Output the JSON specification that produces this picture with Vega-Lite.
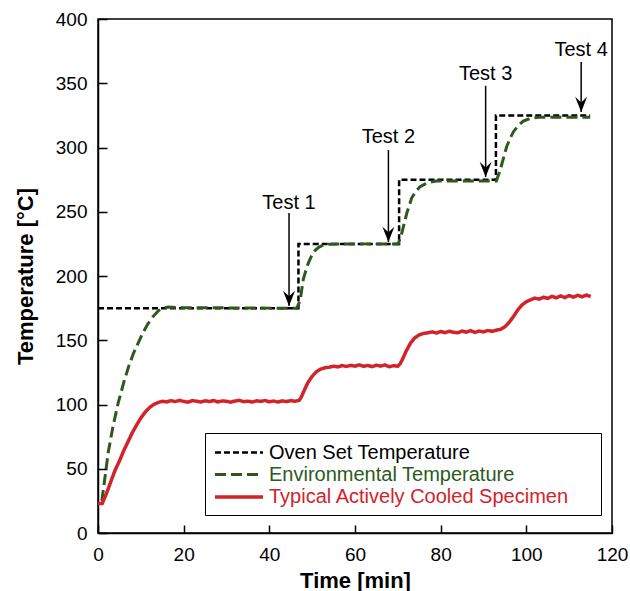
{
  "$schema": "https://vega.github.io/schema/vega-lite/v6.json",
  "width": 514,
  "height": 514,
  "autosize": {"type": "none"},
  "padding": {"left": 98, "top": 19, "right": 18, "bottom": 58},
  "config": {
    "font": "Liberation Sans",
    "view": {"stroke": "black", "strokeWidth": 1.5},
    "axis": {"grid": false, "domainColor": "black", "domainWidth": 1.5, "tickColor": "black", "tickWidth": 1.5, "labelColor": "black", "titleColor": "black", "labelFontSize": 19, "titleFontSize": 22, "titleFontWeight": "bold", "labelFont": "Liberation Sans", "titleFont": "Liberation Sans"}
  },
  "datasets": {
    "lines": [
      {"s": "Oven Set Temperature", "t": 0, "v": 175},
      {"s": "Oven Set Temperature", "t": 46.8, "v": 175},
      {"s": "Oven Set Temperature", "t": 46.8, "v": 225},
      {"s": "Oven Set Temperature", "t": 70.3, "v": 225},
      {"s": "Oven Set Temperature", "t": 70.3, "v": 275},
      {"s": "Oven Set Temperature", "t": 92.9, "v": 275},
      {"s": "Oven Set Temperature", "t": 92.9, "v": 325},
      {"s": "Oven Set Temperature", "t": 114.9, "v": 325},
      {"s": "Environmental Temperature", "t": 0.9, "v": 25},
      {"s": "Environmental Temperature", "t": 1.5, "v": 40},
      {"s": "Environmental Temperature", "t": 2.4, "v": 63},
      {"s": "Environmental Temperature", "t": 3.5, "v": 83},
      {"s": "Environmental Temperature", "t": 4.7, "v": 101},
      {"s": "Environmental Temperature", "t": 6, "v": 117},
      {"s": "Environmental Temperature", "t": 7.1, "v": 129},
      {"s": "Environmental Temperature", "t": 8.3, "v": 140},
      {"s": "Environmental Temperature", "t": 9.4, "v": 148},
      {"s": "Environmental Temperature", "t": 10.5, "v": 156},
      {"s": "Environmental Temperature", "t": 11.7, "v": 163},
      {"s": "Environmental Temperature", "t": 13, "v": 169},
      {"s": "Environmental Temperature", "t": 14.1, "v": 173},
      {"s": "Environmental Temperature", "t": 15.2, "v": 175},
      {"s": "Environmental Temperature", "t": 16.4, "v": 175.8},
      {"s": "Environmental Temperature", "t": 20, "v": 175.3},
      {"s": "Environmental Temperature", "t": 30, "v": 175.2},
      {"s": "Environmental Temperature", "t": 40, "v": 175},
      {"s": "Environmental Temperature", "t": 46.4, "v": 175},
      {"s": "Environmental Temperature", "t": 47.2, "v": 181},
      {"s": "Environmental Temperature", "t": 47.9, "v": 197},
      {"s": "Environmental Temperature", "t": 48.5, "v": 204},
      {"s": "Environmental Temperature", "t": 49.1, "v": 210},
      {"s": "Environmental Temperature", "t": 49.9, "v": 216},
      {"s": "Environmental Temperature", "t": 50.7, "v": 220},
      {"s": "Environmental Temperature", "t": 51.6, "v": 222.5},
      {"s": "Environmental Temperature", "t": 52.6, "v": 224},
      {"s": "Environmental Temperature", "t": 54, "v": 224.8},
      {"s": "Environmental Temperature", "t": 62, "v": 225},
      {"s": "Environmental Temperature", "t": 70.1, "v": 225},
      {"s": "Environmental Temperature", "t": 70.9, "v": 233},
      {"s": "Environmental Temperature", "t": 71.5, "v": 241},
      {"s": "Environmental Temperature", "t": 72.1, "v": 249},
      {"s": "Environmental Temperature", "t": 72.7, "v": 255},
      {"s": "Environmental Temperature", "t": 73.2, "v": 260.5},
      {"s": "Environmental Temperature", "t": 74.2, "v": 266},
      {"s": "Environmental Temperature", "t": 75.2, "v": 269.5},
      {"s": "Environmental Temperature", "t": 76.3, "v": 271.5},
      {"s": "Environmental Temperature", "t": 77.5, "v": 273},
      {"s": "Environmental Temperature", "t": 79, "v": 274},
      {"s": "Environmental Temperature", "t": 86, "v": 274},
      {"s": "Environmental Temperature", "t": 93, "v": 274},
      {"s": "Environmental Temperature", "t": 93.9, "v": 282.5},
      {"s": "Environmental Temperature", "t": 94.6, "v": 291},
      {"s": "Environmental Temperature", "t": 95.4, "v": 300.6},
      {"s": "Environmental Temperature", "t": 96.2, "v": 307},
      {"s": "Environmental Temperature", "t": 97, "v": 312.3},
      {"s": "Environmental Temperature", "t": 98.1, "v": 317},
      {"s": "Environmental Temperature", "t": 99.3, "v": 320.6},
      {"s": "Environmental Temperature", "t": 100.4, "v": 322},
      {"s": "Environmental Temperature", "t": 101.6, "v": 323},
      {"s": "Environmental Temperature", "t": 103, "v": 323.5},
      {"s": "Environmental Temperature", "t": 109, "v": 323.5},
      {"s": "Environmental Temperature", "t": 114.9, "v": 323.5},
      {"s": "Typical Actively Cooled Specimen", "t": 0, "v": 23},
      {"s": "Typical Actively Cooled Specimen", "t": 1, "v": 23},
      {"s": "Typical Actively Cooled Specimen", "t": 2, "v": 31},
      {"s": "Typical Actively Cooled Specimen", "t": 3, "v": 40},
      {"s": "Typical Actively Cooled Specimen", "t": 4, "v": 49},
      {"s": "Typical Actively Cooled Specimen", "t": 5, "v": 56},
      {"s": "Typical Actively Cooled Specimen", "t": 6, "v": 64},
      {"s": "Typical Actively Cooled Specimen", "t": 7, "v": 71},
      {"s": "Typical Actively Cooled Specimen", "t": 8, "v": 78},
      {"s": "Typical Actively Cooled Specimen", "t": 9, "v": 84},
      {"s": "Typical Actively Cooled Specimen", "t": 10, "v": 89.5},
      {"s": "Typical Actively Cooled Specimen", "t": 11, "v": 94},
      {"s": "Typical Actively Cooled Specimen", "t": 12, "v": 97.5},
      {"s": "Typical Actively Cooled Specimen", "t": 13, "v": 100},
      {"s": "Typical Actively Cooled Specimen", "t": 14, "v": 101.5},
      {"s": "Typical Actively Cooled Specimen", "t": 15, "v": 102.5},
      {"s": "Typical Actively Cooled Specimen", "t": 16, "v": 102},
      {"s": "Typical Actively Cooled Specimen", "t": 17, "v": 103},
      {"s": "Typical Actively Cooled Specimen", "t": 18, "v": 102.3},
      {"s": "Typical Actively Cooled Specimen", "t": 19, "v": 103.2},
      {"s": "Typical Actively Cooled Specimen", "t": 20, "v": 102.4},
      {"s": "Typical Actively Cooled Specimen", "t": 21, "v": 101.8},
      {"s": "Typical Actively Cooled Specimen", "t": 22, "v": 103},
      {"s": "Typical Actively Cooled Specimen", "t": 23, "v": 102.6},
      {"s": "Typical Actively Cooled Specimen", "t": 24, "v": 101.9},
      {"s": "Typical Actively Cooled Specimen", "t": 25, "v": 102.9},
      {"s": "Typical Actively Cooled Specimen", "t": 26, "v": 102.3},
      {"s": "Typical Actively Cooled Specimen", "t": 27, "v": 103.1},
      {"s": "Typical Actively Cooled Specimen", "t": 28, "v": 102},
      {"s": "Typical Actively Cooled Specimen", "t": 29, "v": 102.8},
      {"s": "Typical Actively Cooled Specimen", "t": 30, "v": 102.5},
      {"s": "Typical Actively Cooled Specimen", "t": 31, "v": 101.8},
      {"s": "Typical Actively Cooled Specimen", "t": 32, "v": 102.7},
      {"s": "Typical Actively Cooled Specimen", "t": 33, "v": 103.2},
      {"s": "Typical Actively Cooled Specimen", "t": 34, "v": 102.2},
      {"s": "Typical Actively Cooled Specimen", "t": 35, "v": 102.6},
      {"s": "Typical Actively Cooled Specimen", "t": 36, "v": 101.9},
      {"s": "Typical Actively Cooled Specimen", "t": 37, "v": 102.9},
      {"s": "Typical Actively Cooled Specimen", "t": 38, "v": 102.4},
      {"s": "Typical Actively Cooled Specimen", "t": 39, "v": 103.1},
      {"s": "Typical Actively Cooled Specimen", "t": 40, "v": 102.1},
      {"s": "Typical Actively Cooled Specimen", "t": 41, "v": 102.7},
      {"s": "Typical Actively Cooled Specimen", "t": 42, "v": 101.9},
      {"s": "Typical Actively Cooled Specimen", "t": 43, "v": 102.8},
      {"s": "Typical Actively Cooled Specimen", "t": 44, "v": 102.3},
      {"s": "Typical Actively Cooled Specimen", "t": 45, "v": 103},
      {"s": "Typical Actively Cooled Specimen", "t": 46, "v": 102.5},
      {"s": "Typical Actively Cooled Specimen", "t": 47, "v": 103.3},
      {"s": "Typical Actively Cooled Specimen", "t": 47.5, "v": 106},
      {"s": "Typical Actively Cooled Specimen", "t": 48, "v": 110},
      {"s": "Typical Actively Cooled Specimen", "t": 49, "v": 117},
      {"s": "Typical Actively Cooled Specimen", "t": 50, "v": 122},
      {"s": "Typical Actively Cooled Specimen", "t": 51, "v": 125.5},
      {"s": "Typical Actively Cooled Specimen", "t": 52, "v": 127.5},
      {"s": "Typical Actively Cooled Specimen", "t": 53, "v": 128.6},
      {"s": "Typical Actively Cooled Specimen", "t": 54, "v": 129},
      {"s": "Typical Actively Cooled Specimen", "t": 55, "v": 129.8},
      {"s": "Typical Actively Cooled Specimen", "t": 56, "v": 129.2},
      {"s": "Typical Actively Cooled Specimen", "t": 57, "v": 130.3},
      {"s": "Typical Actively Cooled Specimen", "t": 58, "v": 129.6},
      {"s": "Typical Actively Cooled Specimen", "t": 59, "v": 130.5},
      {"s": "Typical Actively Cooled Specimen", "t": 60, "v": 129.8},
      {"s": "Typical Actively Cooled Specimen", "t": 61, "v": 130.9},
      {"s": "Typical Actively Cooled Specimen", "t": 62, "v": 129.7},
      {"s": "Typical Actively Cooled Specimen", "t": 63, "v": 130.4},
      {"s": "Typical Actively Cooled Specimen", "t": 64, "v": 129.5},
      {"s": "Typical Actively Cooled Specimen", "t": 65, "v": 130.6},
      {"s": "Typical Actively Cooled Specimen", "t": 66, "v": 129.9},
      {"s": "Typical Actively Cooled Specimen", "t": 67, "v": 130.8},
      {"s": "Typical Actively Cooled Specimen", "t": 68, "v": 129.4},
      {"s": "Typical Actively Cooled Specimen", "t": 69, "v": 130.2},
      {"s": "Typical Actively Cooled Specimen", "t": 70, "v": 129.8},
      {"s": "Typical Actively Cooled Specimen", "t": 70.6, "v": 132},
      {"s": "Typical Actively Cooled Specimen", "t": 71.2, "v": 136},
      {"s": "Typical Actively Cooled Specimen", "t": 72, "v": 142},
      {"s": "Typical Actively Cooled Specimen", "t": 73, "v": 148},
      {"s": "Typical Actively Cooled Specimen", "t": 74, "v": 152},
      {"s": "Typical Actively Cooled Specimen", "t": 75, "v": 154.2},
      {"s": "Typical Actively Cooled Specimen", "t": 76, "v": 155.3},
      {"s": "Typical Actively Cooled Specimen", "t": 77, "v": 155.8},
      {"s": "Typical Actively Cooled Specimen", "t": 78, "v": 156.5},
      {"s": "Typical Actively Cooled Specimen", "t": 79, "v": 155.6},
      {"s": "Typical Actively Cooled Specimen", "t": 80, "v": 156.8},
      {"s": "Typical Actively Cooled Specimen", "t": 81, "v": 155.9},
      {"s": "Typical Actively Cooled Specimen", "t": 82, "v": 157},
      {"s": "Typical Actively Cooled Specimen", "t": 83, "v": 156.2},
      {"s": "Typical Actively Cooled Specimen", "t": 84, "v": 155.8},
      {"s": "Typical Actively Cooled Specimen", "t": 85, "v": 157.1},
      {"s": "Typical Actively Cooled Specimen", "t": 86, "v": 156.3},
      {"s": "Typical Actively Cooled Specimen", "t": 87, "v": 157.5},
      {"s": "Typical Actively Cooled Specimen", "t": 88, "v": 156.1},
      {"s": "Typical Actively Cooled Specimen", "t": 89, "v": 157.2},
      {"s": "Typical Actively Cooled Specimen", "t": 90, "v": 156.5},
      {"s": "Typical Actively Cooled Specimen", "t": 91, "v": 157.6},
      {"s": "Typical Actively Cooled Specimen", "t": 92, "v": 156.9},
      {"s": "Typical Actively Cooled Specimen", "t": 93, "v": 157.8},
      {"s": "Typical Actively Cooled Specimen", "t": 94, "v": 158.5},
      {"s": "Typical Actively Cooled Specimen", "t": 95, "v": 160.5},
      {"s": "Typical Actively Cooled Specimen", "t": 96, "v": 164},
      {"s": "Typical Actively Cooled Specimen", "t": 97, "v": 168.5},
      {"s": "Typical Actively Cooled Specimen", "t": 98, "v": 173.5},
      {"s": "Typical Actively Cooled Specimen", "t": 99, "v": 177.5},
      {"s": "Typical Actively Cooled Specimen", "t": 100, "v": 180},
      {"s": "Typical Actively Cooled Specimen", "t": 101, "v": 181.5},
      {"s": "Typical Actively Cooled Specimen", "t": 102, "v": 182.8},
      {"s": "Typical Actively Cooled Specimen", "t": 103, "v": 182},
      {"s": "Typical Actively Cooled Specimen", "t": 104, "v": 183.5},
      {"s": "Typical Actively Cooled Specimen", "t": 105, "v": 182.6},
      {"s": "Typical Actively Cooled Specimen", "t": 106, "v": 184.2},
      {"s": "Typical Actively Cooled Specimen", "t": 107, "v": 183},
      {"s": "Typical Actively Cooled Specimen", "t": 108, "v": 184.5},
      {"s": "Typical Actively Cooled Specimen", "t": 109, "v": 183.2},
      {"s": "Typical Actively Cooled Specimen", "t": 110, "v": 184.8},
      {"s": "Typical Actively Cooled Specimen", "t": 111, "v": 183.5},
      {"s": "Typical Actively Cooled Specimen", "t": 112, "v": 185},
      {"s": "Typical Actively Cooled Specimen", "t": 113, "v": 183.8},
      {"s": "Typical Actively Cooled Specimen", "t": 114, "v": 185.2},
      {"s": "Typical Actively Cooled Specimen", "t": 115, "v": 184}
    ],
    "tests": [
      {"label": "Test 1", "t": 44.6, "text_v": 257, "top": 249, "tip": 176.7},
      {"label": "Test 2", "t": 67.8, "text_v": 308, "top": 298, "tip": 226.5},
      {"label": "Test 3", "t": 90.5, "text_v": 357, "top": 348, "tip": 277},
      {"label": "Test 4", "t": 112.8, "text_v": 376, "top": 366.5, "tip": 327.6}
    ]
  },
  "layer": [
    {
      "data": {"name": "lines"},
      "mark": {"type": "line", "strokeCap": "butt"},
      "encoding": {
        "x": {"field": "t", "type": "quantitative", "scale": {"domain": [0, 120], "nice": false},
          "axis": {"title": "Time [min]", "values": [0, 20, 40, 60, 80, 100, 120], "tickSize": -8, "labelPadding": 20, "titlePadding": 6, "labelFlush": false}},
        "y": {"field": "v", "type": "quantitative", "scale": {"domain": [0, 400], "nice": false},
          "axis": {"title": "Temperature [°C]", "values": [0, 25, 50, 75, 100, 125, 150, 175, 200, 225, 250, 275, 300, 325, 350, 375, 400], "labelExpr": "datum.value % 50 === 0 ? datum.label : ''", "tickSize": -9, "labelPadding": 20, "titlePadding": 18, "labelFlush": false}},
        "order": {"value": null},
        "color": {"field": "s", "type": "nominal",
          "scale": {"domain": ["Oven Set Temperature", "Environmental Temperature", "Typical Actively Cooled Specimen"], "range": ["#000000", "#2c5a1e", "#d2232a"]},
          "legend": {
            "orient": "none", "legendX": 107, "legendY": 414, "direction": "vertical",
            "title": "\u00a0", "titleOrient": "right", "titlePadding": 24,
            "strokeColor": "black", "padding": 8, "fillColor": "white",
            "symbolType": "M-1,0 L3.8,0", "symbolSize": 400, "symbolStrokeWidth": 3, "symbolFillColor": "transparent",
            "labelFontSize": 20, "labelOffset": 32, "rowPadding": 0, "labelLimit": 400,
            "labelColor": {"expr": "datum.label == 'Oven Set Temperature' ? '#000000' : (datum.label == 'Environmental Temperature' ? '#2c5a1e' : '#d2232a')"}
          }},
        "strokeDash": {"field": "s", "type": "nominal",
          "scale": {"domain": ["Oven Set Temperature", "Environmental Temperature", "Typical Actively Cooled Specimen"], "range": [[6, 3], [11, 5], [1, 0]]}},
        "strokeWidth": {"field": "s", "type": "nominal", "legend": null,
          "scale": {"domain": ["Oven Set Temperature", "Environmental Temperature", "Typical Actively Cooled Specimen"], "range": [2.5, 3.5, 4.5]}}
      }
    },
    {
      "data": {"name": "tests"},
      "mark": {"type": "rule", "color": "black", "strokeWidth": 1.5},
      "encoding": {
        "x": {"field": "t", "type": "quantitative"},
        "y": {"field": "top", "type": "quantitative"},
        "y2": {"field": "tip"}
      }
    },
    {
      "data": {"name": "tests"},
      "mark": {"type": "point", "shape": "M0,0 L-0.75,-1.9 L0,-1.2 L0.75,-1.9 Z", "size": 256, "filled": true, "color": "black", "opacity": 1, "strokeWidth": 0},
      "encoding": {
        "x": {"field": "t", "type": "quantitative"},
        "y": {"field": "tip", "type": "quantitative"}
      }
    },
    {
      "data": {"name": "tests"},
      "mark": {"type": "text", "fontSize": 20, "color": "black", "align": "center", "baseline": "middle"},
      "encoding": {
        "x": {"field": "t", "type": "quantitative"},
        "y": {"field": "text_v", "type": "quantitative"},
        "text": {"field": "label"}
      }
    }
  ]
}
